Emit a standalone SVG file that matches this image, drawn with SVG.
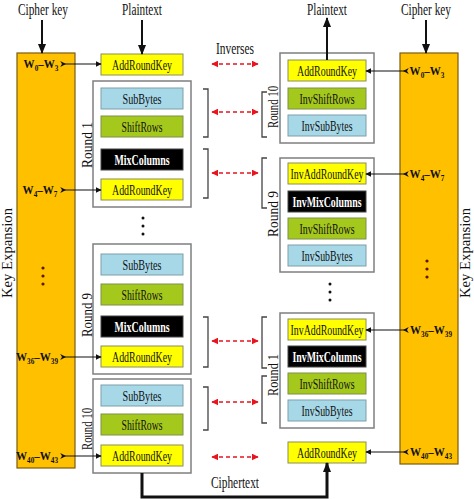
<svg xmlns="http://www.w3.org/2000/svg" width="474" height="499" viewBox="0 0 474 499">
<defs>
<style>
text{font-family:"Liberation Serif","Times New Roman",serif;fill:#111}
.lbl{font-size:16px;text-anchor:middle}
.bx{font-size:15px;text-anchor:middle}
.bw{font-size:15px;text-anchor:middle;font-weight:bold;fill:#fff}
.w{font-size:13px;font-weight:bold;text-anchor:middle}
.s{font-size:8.5px}
.rd{font-size:14px;text-anchor:middle}
.ke{font-size:14px;text-anchor:middle}
.bar{fill:#FFC000;stroke:#7a5c10;stroke-width:1.2}
.cont{fill:#fff;stroke:#7f7f7f;stroke-width:1.5}
.y{fill:#FFFF00;stroke:#8c8c5a;stroke-width:1}
.b{fill:#A6D8E8;stroke:#7f9fa8;stroke-width:1}
.g{fill:#A5C81C;stroke:#7f8f4a;stroke-width:1}
.k{fill:#000;stroke:#444;stroke-width:1}
.br{fill:none;stroke:#444;stroke-width:1.3}
.ka{fill:none;stroke:#111;stroke-width:1.2;marker-end:url(#ah);marker-start:url(#tl)}
.ta{fill:none;stroke:#111;stroke-width:2;marker-end:url(#ahb)}
.da{fill:none;stroke:#E8141E;stroke-width:1.6;stroke-dasharray:4 3;marker-end:url(#ar);marker-start:url(#arS)}
.dot{fill:#111}
.bd{fill:#5a1a00}
</style>
<marker id="ah" viewBox="0 0 10 10" refX="9" refY="5" markerWidth="6" markerHeight="6" markerUnits="userSpaceOnUse" orient="auto"><path d="M0,0 L10,5 L0,10 z" fill="#111"/></marker>
<marker id="tl" viewBox="0 0 10 10" refX="3" refY="5" markerWidth="6" markerHeight="6" markerUnits="userSpaceOnUse" orient="auto"><path d="M0,0 L10,5 L0,10 L3,5 z" fill="#111"/></marker>
<marker id="ahb" viewBox="0 0 10 10" refX="9" refY="5" markerWidth="10" markerHeight="10" markerUnits="userSpaceOnUse" orient="auto"><path d="M0,1 L10,5 L0,9 z" fill="#111"/></marker>
<marker id="ar" viewBox="0 0 10 10" refX="9" refY="5" markerWidth="7" markerHeight="7" markerUnits="userSpaceOnUse" orient="auto"><path d="M0,0 L10,5 L0,10 z" fill="#E8141E"/></marker>
<marker id="arS" viewBox="0 0 10 10" refX="1" refY="5" markerWidth="7" markerHeight="7" markerUnits="userSpaceOnUse" orient="auto"><path d="M10,0 L0,5 L10,10 z" fill="#E8141E"/></marker>
</defs>
<rect width="474" height="499" fill="#fff"/>

<g id="labels">
<text class="lbl" x="43" y="15" textLength="50" lengthAdjust="spacingAndGlyphs">Cipher key</text>
<text class="lbl" x="142" y="15" textLength="40" lengthAdjust="spacingAndGlyphs">Plaintext</text>
<text class="lbl" x="327" y="15" textLength="40" lengthAdjust="spacingAndGlyphs">Plaintext</text>
<text class="lbl" x="426" y="15" textLength="50" lengthAdjust="spacingAndGlyphs">Cipher key</text>
<text class="lbl" x="235" y="54" textLength="38" lengthAdjust="spacingAndGlyphs">Inverses</text>
<text class="lbl" x="235" y="488" textLength="48" lengthAdjust="spacingAndGlyphs">Ciphertext</text>
</g>

<g id="keyexp-left">
<rect class="bar" x="17" y="53" width="58" height="415"/>
<text class="ke" transform="translate(12,253) rotate(-90)" textLength="90" lengthAdjust="spacingAndGlyphs">Key Expansion</text>
<text class="w" transform="translate(41,68) scale(0.85,1)">W<tspan class="s" dy="3">0</tspan><tspan dy="-3">–W</tspan><tspan class="s" dy="3">3</tspan></text>
<text class="w" transform="translate(40,194) scale(0.85,1)">W<tspan class="s" dy="3">4</tspan><tspan dy="-3">–W</tspan><tspan class="s" dy="3">7</tspan></text>
<text class="w" transform="translate(37,361) scale(0.85,1)">W<tspan class="s" dy="3">36</tspan><tspan dy="-3">–W</tspan><tspan class="s" dy="3">39</tspan></text>
<text class="w" transform="translate(37,460) scale(0.85,1)">W<tspan class="s" dy="3">40</tspan><tspan dy="-3">–W</tspan><tspan class="s" dy="3">43</tspan></text>
<circle class="bd" cx="43" cy="268" r="1.6"/><circle class="bd" cx="43" cy="276" r="1.6"/><circle class="bd" cx="43" cy="284" r="1.6"/>
</g>
<g id="keyexp-right">
<rect class="bar" x="400" y="53" width="58" height="411"/>
<text class="ke" transform="translate(470,253) rotate(-90)" textLength="90" lengthAdjust="spacingAndGlyphs">Key Expansion</text>
<text class="w" transform="translate(427,75) scale(0.85,1)">W<tspan class="s" dy="3">0</tspan><tspan dy="-3">–W</tspan><tspan class="s" dy="3">3</tspan></text>
<text class="w" transform="translate(427,178) scale(0.85,1)">W<tspan class="s" dy="3">4</tspan><tspan dy="-3">–W</tspan><tspan class="s" dy="3">7</tspan></text>
<text class="w" transform="translate(431,334) scale(0.85,1)">W<tspan class="s" dy="3">36</tspan><tspan dy="-3">–W</tspan><tspan class="s" dy="3">39</tspan></text>
<text class="w" transform="translate(431,456) scale(0.85,1)">W<tspan class="s" dy="3">40</tspan><tspan dy="-3">–W</tspan><tspan class="s" dy="3">43</tspan></text>
<circle class="bd" cx="427" cy="261" r="1.6"/><circle class="bd" cx="427" cy="269" r="1.6"/><circle class="bd" cx="427" cy="277" r="1.6"/>
</g>

<g id="enc-ark0">
<rect class="y" x="101" y="54" width="82" height="21"/>
<text class="bx" x="142" y="70" textLength="60" lengthAdjust="spacingAndGlyphs">AddRoundKey</text>
</g>
<g id="enc-round1">
<rect class="cont" x="93" y="81" width="98" height="126"/>
<text class="rd" transform="translate(92,145) rotate(-90)" textLength="46" lengthAdjust="spacingAndGlyphs">Round 1</text>
<rect class="b" x="101" y="88" width="82" height="21"/>
<text class="bx" x="142" y="104" textLength="39" lengthAdjust="spacingAndGlyphs">SubBytes</text>
<rect class="g" x="101" y="116" width="82" height="21"/>
<text class="bx" x="142" y="132" textLength="41" lengthAdjust="spacingAndGlyphs">ShiftRows</text>
<rect class="k" x="101" y="149" width="82" height="21"/>
<text class="bw" x="142" y="165" textLength="55" lengthAdjust="spacingAndGlyphs">MixColumns</text>
<rect class="y" x="101" y="179" width="82" height="21"/>
<text class="bx" x="142" y="195" textLength="60" lengthAdjust="spacingAndGlyphs">AddRoundKey</text>
</g>
<g id="enc-dots">
<circle class="dot" cx="143" cy="218" r="1.5"/><circle class="dot" cx="143" cy="226" r="1.5"/><circle class="dot" cx="143" cy="234" r="1.5"/>
</g>
<g id="enc-round9">
<rect class="cont" x="93" y="244" width="98" height="130"/>
<text class="rd" transform="translate(92,315) rotate(-90)" textLength="44" lengthAdjust="spacingAndGlyphs">Round 9</text>
<rect class="b" x="101" y="254" width="82" height="21"/>
<text class="bx" x="142" y="270" textLength="39" lengthAdjust="spacingAndGlyphs">SubBytes</text>
<rect class="g" x="101" y="284" width="82" height="21"/>
<text class="bx" x="142" y="300" textLength="41" lengthAdjust="spacingAndGlyphs">ShiftRows</text>
<rect class="k" x="101" y="316" width="82" height="21"/>
<text class="bw" x="142" y="332" textLength="55" lengthAdjust="spacingAndGlyphs">MixColumns</text>
<rect class="y" x="101" y="346" width="82" height="21"/>
<text class="bx" x="142" y="362" textLength="60" lengthAdjust="spacingAndGlyphs">AddRoundKey</text>
</g>
<g id="enc-round10">
<rect class="cont" x="93" y="379" width="98" height="94"/>
<text class="rd" transform="translate(92,429) rotate(-90)" textLength="42" lengthAdjust="spacingAndGlyphs">Round 10</text>
<rect class="b" x="101" y="385" width="82" height="21"/>
<text class="bx" x="142" y="401" textLength="39" lengthAdjust="spacingAndGlyphs">SubBytes</text>
<rect class="g" x="101" y="414" width="82" height="21"/>
<text class="bx" x="142" y="430" textLength="41" lengthAdjust="spacingAndGlyphs">ShiftRows</text>
<rect class="y" x="101" y="445" width="82" height="21"/>
<text class="bx" x="142" y="461" textLength="60" lengthAdjust="spacingAndGlyphs">AddRoundKey</text>
</g>

<g id="dec-round10">
<rect class="cont" x="280" y="53" width="94" height="90"/>
<text class="rd" transform="translate(278,107) rotate(-90)" textLength="42" lengthAdjust="spacingAndGlyphs">Round 10</text>
<rect class="y" x="288" y="60" width="78" height="21"/>
<text class="bx" x="327" y="76" textLength="60" lengthAdjust="spacingAndGlyphs">AddRoundKey</text>
<rect class="g" x="288" y="88" width="78" height="21"/>
<text class="bx" x="327" y="104" textLength="55" lengthAdjust="spacingAndGlyphs">InvShiftRows</text>
<rect class="b" x="288" y="115" width="78" height="21"/>
<text class="bx" x="327" y="131" textLength="51" lengthAdjust="spacingAndGlyphs">InvSubBytes</text>
</g>
<g id="dec-round9">
<rect class="cont" x="280" y="158" width="94" height="114"/>
<text class="rd" transform="translate(278,214) rotate(-90)" textLength="46" lengthAdjust="spacingAndGlyphs">Round 9</text>
<rect class="y" x="288" y="163" width="78" height="21"/>
<text class="bx" x="327" y="179" textLength="73" lengthAdjust="spacingAndGlyphs">InvAddRoundKey</text>
<rect class="k" x="288" y="191" width="78" height="21"/>
<text class="bw" x="327" y="207" textLength="69" lengthAdjust="spacingAndGlyphs">InvMixColumns</text>
<rect class="g" x="288" y="218" width="78" height="21"/>
<text class="bx" x="327" y="234" textLength="55" lengthAdjust="spacingAndGlyphs">InvShiftRows</text>
<rect class="b" x="288" y="245" width="78" height="21"/>
<text class="bx" x="327" y="261" textLength="51" lengthAdjust="spacingAndGlyphs">InvSubBytes</text>
</g>
<g id="dec-dots">
<circle class="dot" cx="330" cy="284" r="1.5"/><circle class="dot" cx="330" cy="292" r="1.5"/><circle class="dot" cx="330" cy="300" r="1.5"/>
</g>
<g id="dec-round1">
<rect class="cont" x="280" y="313" width="94" height="115"/>
<text class="rd" transform="translate(278,375) rotate(-90)" textLength="42" lengthAdjust="spacingAndGlyphs">Round 1</text>
<rect class="y" x="288" y="319" width="78" height="21"/>
<text class="bx" x="327" y="335" textLength="73" lengthAdjust="spacingAndGlyphs">InvAddRoundKey</text>
<rect class="k" x="288" y="346" width="78" height="21"/>
<text class="bw" x="327" y="362" textLength="69" lengthAdjust="spacingAndGlyphs">InvMixColumns</text>
<rect class="g" x="288" y="373" width="78" height="21"/>
<text class="bx" x="327" y="389" textLength="55" lengthAdjust="spacingAndGlyphs">InvShiftRows</text>
<rect class="b" x="288" y="400" width="78" height="21"/>
<text class="bx" x="327" y="416" textLength="51" lengthAdjust="spacingAndGlyphs">InvSubBytes</text>
</g>
<g id="dec-ark-final">
<rect class="y" x="288" y="442" width="78" height="21"/>
<text class="bx" x="327" y="458" textLength="60" lengthAdjust="spacingAndGlyphs">AddRoundKey</text>
</g>

<g id="connectors">
<line class="ta" x1="42" y1="20" x2="42" y2="53"/>
<line class="ta" x1="142" y1="20" x2="142" y2="54"/>
<line class="ta" x1="327" y1="60" x2="327" y2="18"/>
<line class="ta" x1="426" y1="20" x2="426" y2="53"/>
<path d="M142,473 V497 H327 V463" fill="none" stroke="#111" stroke-width="3" marker-end="url(#ahb)"/>

<line class="ka" x1="62" y1="64" x2="101" y2="64"/>
<line class="ka" x1="62" y1="190" x2="101" y2="190"/>
<line class="ka" x1="62" y1="357" x2="101" y2="357"/>
<line class="ka" x1="62" y1="456" x2="101" y2="456"/>
<line class="ka" x1="407" y1="71" x2="366" y2="71"/>
<line class="ka" x1="407" y1="174" x2="366" y2="174"/>
<line class="ka" x1="407" y1="330" x2="366" y2="330"/>
<line class="ka" x1="407" y1="452" x2="366" y2="452"/>

<path class="br" d="M203,89 H208 V137 H203"/>
<path class="br" d="M203,149 H208 V198 H203"/>
<path class="br" d="M203,317 H208 V367 H203"/>
<path class="br" d="M203,387 H208 V430 H203"/>
<path class="br" d="M267,92 H262 V137 H267"/>
<path class="br" d="M267,158 H262 V208 H267"/>
<path class="br" d="M267,317 H262 V368 H267"/>
<path class="br" d="M267,376 H262 V423 H267"/>

<line class="da" x1="212" y1="64" x2="258" y2="64"/>
<line class="da" x1="212" y1="112" x2="258" y2="112"/>
<line class="da" x1="212" y1="173" x2="258" y2="173"/>
<line class="da" x1="212" y1="341" x2="258" y2="341"/>
<line class="da" x1="212" y1="402" x2="258" y2="402"/>
<line class="da" x1="212" y1="457" x2="258" y2="457"/>
</g>
</svg>
